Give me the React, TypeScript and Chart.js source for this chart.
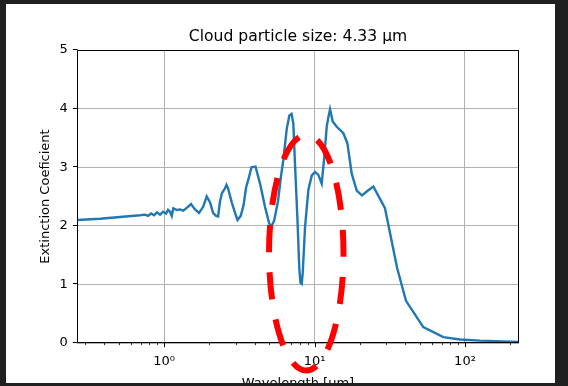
import React, { useEffect, useRef } from 'react';
import { Chart, registerables } from 'chart.js';

Chart.register(...registerables);

// Wavelength [µm]
const wavelengths = [
  0.264, 0.376, 0.51, 0.693, 0.748, 0.783, 0.82, 0.858, 0.898, 0.941,
  0.985, 1.031, 1.063, 1.096, 1.125, 1.153, 1.214, 1.277, 1.343, 1.422,
  1.511, 1.607, 1.708, 1.816, 1.922, 2.022, 2.118, 2.217, 2.287, 2.355,
  2.428, 2.543, 2.602, 2.661, 2.818, 2.964, 3.077, 3.234, 3.376, 3.506,
  3.642, 3.812, 4.054, 4.345, 4.69, 4.985, 5.14, 5.381, 5.719, 5.988,
  6.203, 6.535, 6.8, 7.03, 7.23, 7.42, 7.69, 7.93, 8.07, 8.22,
  8.35, 8.65, 9.1, 9.59, 10.08, 10.6, 11.16, 11.56, 12.05, 12.35,
  12.68, 13.21, 14.05, 15.55, 16.53, 17.67, 19.07, 20.68, 22.33, 24.6,
  27.24, 29.39, 35.4, 40.55, 52.8, 71.8, 92.6, 125.9, 228.5,
];

// Extinction coefficient
const extinction = [
  2.1, 2.12, 2.15, 2.18, 2.19, 2.17, 2.21, 2.18, 2.23, 2.19,
  2.24, 2.21, 2.27, 2.24, 2.17, 2.3, 2.27, 2.28, 2.26, 2.31,
  2.37, 2.28, 2.22, 2.32, 2.5, 2.4, 2.22, 2.17, 2.16, 2.42,
  2.56, 2.64, 2.7, 2.64, 2.4, 2.22, 2.1, 2.17, 2.35, 2.65,
  2.8, 3.0, 3.01, 2.72, 2.32, 2.05, 1.98, 2.08, 2.42, 2.85,
  3.12, 3.65, 3.88, 3.91, 3.75, 3.05, 2.15, 1.25, 1.03, 1.01,
  1.2, 1.98, 2.61, 2.86, 2.92, 2.87, 2.72, 3.12, 3.69, 3.85,
  3.99, 3.78, 3.69, 3.58, 3.41, 2.89, 2.6, 2.52, 2.59, 2.67,
  2.46, 2.3, 1.28, 0.72, 0.27, 0.1, 0.06, 0.04, 0.02,
];

const xRange = [0.264, 228.5];
const yRange = [0, 5];
const yTickValues = [0, 1, 2, 3, 4, 5];
const xMajorTicks = [1, 10, 100];
const xMajorLabels = ['10⁰', '10¹', '10²'];
const xMinorTicks = [
  0.3, 0.4, 0.5, 0.6, 0.7, 0.8, 0.9,
  2, 3, 4, 5, 6, 7, 8, 9,
  20, 30, 40, 50, 60, 70, 80, 90, 200,
];

const titleText = 'Cloud particle size: 4.33 μm';
const xLabel = 'Wavelength [μm]';
const yLabel = 'Extinction Coeficient';

// Red dashed highlight ellipse bounds (data coordinates)
const ellipseXBounds = [4.985, 15.58];
const ellipseYBounds = [-0.47, 3.55];

const FONT = 'DejaVu Sans';
const CANVAS_W = 549;
const CANVAS_H = 400;

function ellipsePerimeter(rx: number, ry: number) {
  let len = 0;
  const n = 720;
  let px = rx;
  let py = 0;
  for (let i = 1; i <= n; i++) {
    const t = (i / n) * Math.PI * 2;
    const qx = rx * Math.cos(t);
    const qy = ry * Math.sin(t);
    len += Math.hypot(qx - px, qy - py);
    px = qx;
    py = qy;
  }
  return len;
}

const overlayPlugin = {
  id: 'overlay',
  afterDraw(chart: any) {
    const { ctx, chartArea: a, scales } = chart;
    const x = scales.x;
    const y = scales.y;
    ctx.save();
    // Frame (spines)
    ctx.strokeStyle = '#000';
    ctx.lineWidth = 1;
    const L = Math.round(a.left) + 0.5;
    const R = Math.round(a.right) - 0.5;
    const T = Math.round(a.top) + 0.5;
    const B = Math.round(a.bottom) - 0.5;
    ctx.beginPath();
    ctx.rect(L, T, R - L, B - T);
    ctx.stroke();
    // y ticks
    ctx.beginPath();
    for (const v of yTickValues) {
      const py = Math.round(y.getPixelForValue(v)) - 0.5;
      ctx.moveTo(L - 4.6, py);
      ctx.lineTo(L, py);
    }
    // x major ticks
    for (const v of xMajorTicks) {
      const px = Math.round(x.getPixelForValue(v)) + 0.5;
      ctx.moveTo(px, B);
      ctx.lineTo(px, B + 4.6);
    }
    ctx.stroke();
    ctx.beginPath();
    ctx.lineWidth = 0.8;
    for (const v of xMinorTicks) {
      const px = Math.round(x.getPixelForValue(v)) + 0.5;
      ctx.moveTo(px, B);
      ctx.lineTo(px, B + 2.6);
    }
    ctx.stroke();
    // Ellipse annotation
    const x0 = x.getPixelForValue(ellipseXBounds[0]);
    const x1 = x.getPixelForValue(ellipseXBounds[1]);
    const y0 = y.getPixelForValue(ellipseYBounds[0]);
    const y1 = y.getPixelForValue(ellipseYBounds[1]);
    const cx = (x0 + x1) / 2;
    const cy = (y0 + y1) / 2;
    const rx = Math.abs(x1 - x0) / 2;
    const ry = Math.abs(y0 - y1) / 2;
    const per = ellipsePerimeter(rx, ry);
    const period = per / 11;
    const dash = period * 0.575;
    ctx.strokeStyle = '#ff0000';
    ctx.lineWidth = 6;
    ctx.setLineDash([dash, period - dash]);
    ctx.lineDashOffset = dash - 4;
    ctx.beginPath();
    ctx.ellipse(cx, cy, rx, ry, 0, 0, Math.PI * 2);
    ctx.stroke();
    ctx.restore();
  },
};

export default function App() {
  const ref = useRef<HTMLCanvasElement | null>(null);

  useEffect(() => {
    if (!ref.current) return;
    const points = wavelengths.map((w, i) => ({ x: w, y: extinction[i] }));
    const chart = new Chart(ref.current, {
      type: 'line',
      data: {
        datasets: [
          {
            data: points,
            borderColor: '#1f77b4',
            borderWidth: 2.4,
            pointRadius: 0,
            tension: 0,
            fill: false,
          },
        ],
      },
      options: {
        animation: false,
        responsive: false,
        devicePixelRatio: 1,
        layout: { padding: { left: 0, right: 36, top: 23.6, bottom: 0 } },
        plugins: {
          legend: { display: false },
          tooltip: { enabled: false },
          title: {
            display: true,
            text: titleText,
            fullSize: false,
            color: '#000',
            font: { family: FONT, size: 15.6, weight: 'normal' },
            padding: { top: 0, bottom: 3.7 },
          },
        },
        scales: {
          x: {
            type: 'logarithmic',
            min: xRange[0],
            max: xRange[1],
            afterBuildTicks: (scale: any) => {
              scale.ticks = [...xMinorTicks, ...xMajorTicks]
                .sort((a, b) => a - b)
                .map((v) => ({ value: v }));
            },
            afterFit: (scale: any) => {
              scale.height = CANVAS_H - 339;
            },
            grid: {
              drawTicks: false,
              lineWidth: 1,
              color: (c: any) =>
                c.tick && xMajorTicks.includes(c.tick.value) ? '#b0b0b0' : 'rgba(0,0,0,0)',
            },
            border: { display: false },
            ticks: {
              autoSkip: false,
              maxRotation: 0,
              padding: 11,
              color: '#000',
              font: { family: FONT, size: 13 },
              callback: (v: any) => {
                const i = xMajorTicks.indexOf(Number(v));
                return i >= 0 ? xMajorLabels[i] : '';
              },
            },
            title: {
              display: true,
              text: xLabel,
              color: '#000',
              font: { family: FONT, size: 13 },
              padding: { top: 0, bottom: 12.5 },
            },
          },
          y: {
            min: yRange[0],
            max: yRange[1],
            afterBuildTicks: (scale: any) => {
              scale.ticks = yTickValues.map((v) => ({ value: v }));
            },
            afterFit: (scale: any) => {
              scale.width = 71;
            },
            grid: { drawTicks: false, color: '#b0b0b0', lineWidth: 1 },
            border: { display: false },
            ticks: {
              padding: 9.2,
              color: '#000',
              font: { family: FONT, size: 13 },
            },
            title: {
              display: true,
              text: yLabel,
              color: '#000',
              font: { family: FONT, size: 13 },
              padding: { top: 32.2, bottom: 0 },
            },
          },
        },
      },
      plugins: [overlayPlugin],
    } as any);
    return () => chart.destroy();
  }, []);

  return (
    <div
      style={{
        position: 'fixed',
        left: 0,
        top: 0,
        width: 568,
        height: 386,
        background: '#202020',
        overflow: 'hidden',
      }}
    >
      <div
        style={{
          position: 'absolute',
          left: 6,
          top: 4,
          width: CANVAS_W,
          height: 379,
          background: '#ffffff',
          overflow: 'hidden',
        }}
      >
        <canvas
          ref={ref}
          width={CANVAS_W}
          height={CANVAS_H}
          style={{ position: 'absolute', left: 0, top: 0, width: CANVAS_W, height: CANVAS_H }}
        />
      </div>
    </div>
  );
}
